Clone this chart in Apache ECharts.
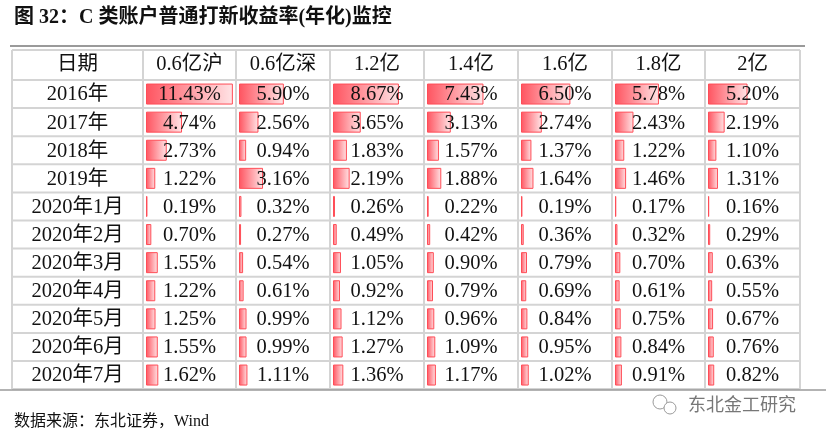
<!DOCTYPE html>
<html><head><meta charset="utf-8">
<script src="https://cdn.jsdelivr.net/npm/echarts@6/dist/echarts.min.js"></script>
<style>html,body{margin:0;padding:0;background:#fff}#c{width:830px;height:438px}</style>
</head><body><div id="c"></div>
<script>
const columns = ['0.6亿沪','0.6亿深','1.2亿','1.4亿','1.6亿','1.8亿','2亿'];
const dates = ['2016年','2017年','2018年','2019年','2020年1月','2020年2月','2020年3月','2020年4月','2020年5月','2020年6月','2020年7月'];
const c06sh = [11.43,4.74,2.73,1.22,0.19,0.70,1.55,1.22,1.25,1.55,1.62];
const c06sz = [5.90,2.56,0.94,3.16,0.32,0.27,0.54,0.61,0.99,0.99,1.11];
const c12 = [8.67,3.65,1.83,2.19,0.26,0.49,1.05,0.92,1.12,1.27,1.36];
const c14 = [7.43,3.13,1.57,1.88,0.22,0.42,0.90,0.79,0.96,1.09,1.17];
const c16 = [6.50,2.74,1.37,1.64,0.19,0.36,0.79,0.69,0.84,0.95,1.02];
const c18 = [5.78,2.43,1.22,1.46,0.17,0.32,0.70,0.61,0.75,0.84,0.91];
const c20 = [5.20,2.19,1.10,1.31,0.16,0.29,0.63,0.55,0.67,0.76,0.82];
const values = [c06sh,c06sz,c12,c14,c16,c18,c20];

const xs=[12,143,236,330,424,518,612,705,800];
const headTop=50, rowTop=80, rowH=28.1;
const font='"Liberation Serif","Noto Sans CJK SC",serif';
const chart=echarts.init(document.getElementById('c'));
const grids=[],xAxes=[],yAxes=[],series=[],g=[];
values.forEach((vals,j)=>{
  const w=xs[j+2]-xs[j+1];
  grids.push({left:xs[j+1]+3,top:rowTop,width:w-4,height:rowH*dates.length});
  xAxes.push({gridIndex:j,type:'value',min:0,max:(w-4)/7.6,show:false});
  yAxes.push({gridIndex:j,type:'category',data:dates,inverse:true,show:false});
  series.push({type:'bar',xAxisIndex:j,yAxisIndex:j,data:vals,barWidth:21,silent:true,
    itemStyle:{borderColor:'#ff4d57',borderWidth:1,
      color:new echarts.graphic.LinearGradient(0,0,1,0,[{offset:0,color:'#ff5460'},{offset:1,color:'#ffe4e6'}])}});
});
const bottom=rowTop+rowH*dates.length;
for(let i=0;i<=dates.length+1;i++){
  const y=i===0?headTop:rowTop+(i-1)*rowH;
  g.push({type:'line',shape:{x1:xs[0],y1:y,x2:xs[8],y2:y},style:{stroke:'#d4d4d4',lineWidth:2}});
}
xs.forEach(x=>g.push({type:'line',shape:{x1:x,y1:headTop,x2:x,y2:bottom},style:{stroke:'#d4d4d4',lineWidth:2}}));
g.push({type:'line',shape:{x1:10,y1:46,x2:805,y2:46},style:{stroke:'#9a9a9a',lineWidth:2}});
g.push({type:'line',shape:{x1:0,y1:390,x2:826,y2:390},style:{stroke:'#9a9a9a',lineWidth:1.5}});
const txt=(x,y,t,opt)=>g.push(Object.assign({type:'text',x,y,z:10,style:Object.assign({text:t,font:'20.5px '+font,fill:'#111',align:'center',verticalAlign:'middle'},opt||{})}));
txt((xs[0]+xs[1])/2,headTop+15,'日期');
columns.forEach((c,j)=>txt((xs[j+1]+xs[j+2])/2,headTop+15,c));
dates.forEach((d,i)=>{
  const y=rowTop+i*rowH+rowH/2+1;
  txt((xs[0]+xs[1])/2,y,d);
  values.forEach((vals,j)=>txt((xs[j+1]+xs[j+2])/2,y,vals[i].toFixed(2)+'%'));
});
g.push({type:'text',x:14,y:18,style:{text:'图 32：C 类账户普通打新收益率(年化)监控',font:'bold 20px '+font,fill:'#111',verticalAlign:'middle'}});
g.push({type:'text',x:14,y:422,style:{text:'数据来源：东北证券，Wind',font:'16px '+font,fill:'#111',verticalAlign:'middle'}});
g.push({type:'text',x:688,y:404,style:{text:'东北金工研究',font:'18px "Noto Sans CJK SC",sans-serif',fill:'#777',verticalAlign:'middle'}});
g.push({type:'circle',shape:{cx:660,cy:402,r:7},style:{fill:'none',stroke:'#999',lineWidth:1}});
g.push({type:'circle',shape:{cx:670,cy:408,r:6},style:{fill:'#fff',stroke:'#999',lineWidth:1}});
chart.setOption({animation:false,grid:grids,xAxis:xAxes,yAxis:yAxes,series,graphic:g});
</script></body></html>
